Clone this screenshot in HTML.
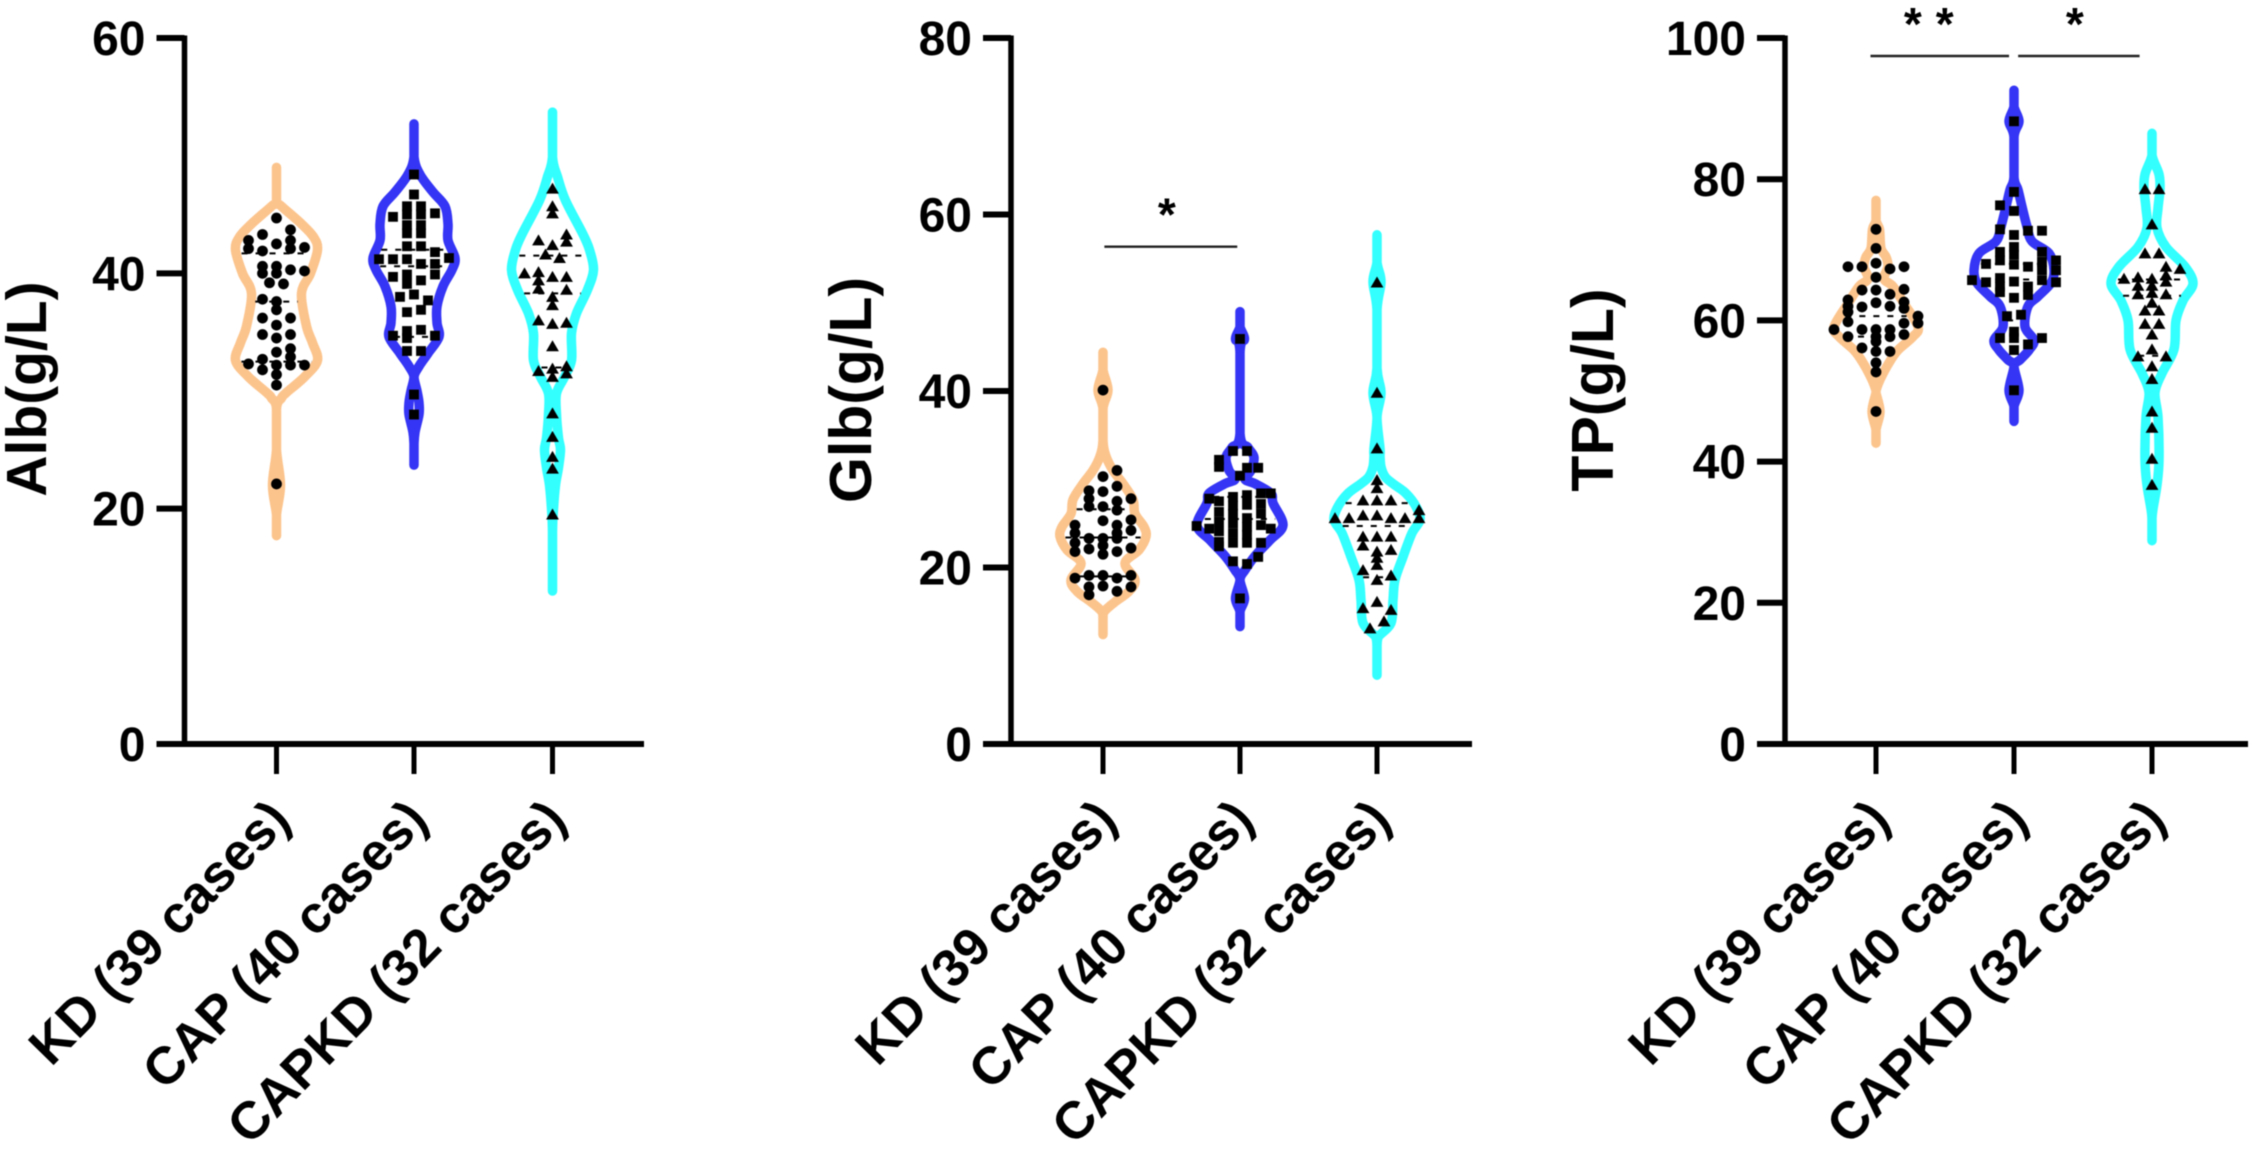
<!DOCTYPE html>
<html lang="en">
<head>
<meta charset="utf-8">
<title>Alb, Glb and TP violin plots</title>
<style>
html,body{margin:0;padding:0;background:#fff;}
body{width:2250px;height:1151px;overflow:hidden;}
svg{display:block;filter:blur(0.6px);}
text{font-family:"Liberation Sans",Arial,sans-serif;font-weight:bold;fill:#000;}
</style>
</head>
<body>
<svg id="chart" xmlns="http://www.w3.org/2000/svg" width="2250" height="1151" viewBox="0 0 2250 1151"></svg>
<script>
// ---------- shared ----------
const groupLabels = ["KD (39 cases)", "CAP (40 cases)", "CAPKD (32 cases)"];
const groupColors = ["#fcc48d", "#3535f5", "#33ffff"];
const groupSymbols = ["circle", "square", "triangle"];

// ---------- Alb ----------
const albTicks = [0, 20, 40, 60];
const albKdValues = [44.7,43.7,43.3,42.8,42.1,42.5,42.8,42.1,42.2,41.9,40.6,40.0,40.6,40.0,40.3,40.2,39.2,39.1,37.8,37.6,36.9,36.2,36.2,35.6,34.8,34.8,34.5,33.6,33.3,32.9,32.7,32.3,32.2,32.2,31.8,31.4,30.5,22.1,32.2];
const albKdSwarm = [0,1,-1,-2,-2,0,1,1,2,-1,-1,-1,0,0,1,2,-0.5,0.5,-1,0,0,-1,1,0,-1,1,0,1,0,1,-1,-2,0,2,-1,0,0,0,1];
const albCapValues = [48.4,46.7,45.7,45.0,45.7,45.0,44.1,43.4,44.1,43.4,45.1,44.8,42.3,42.3,41.8,40.8,39.9,41.3,41.2,41.2,41.2,40.8,39.7,39.9,39.1,39.4,38.0,38.2,37.7,36.9,36.7,35.2,35.1,34.5,34.7,34.7,33.4,33.4,29.7,28.0];
const albCapSwarm = [0,0,-0.5,-0.5,0.5,0.5,-0.5,-0.5,0.5,0.5,1.5,-1.5,-0.5,0.5,1.5,1.5,1.5,2.5,-2.5,-1.5,-0.5,0.5,-1.5,-0.5,-0.5,0.5,-1,0,1,0.5,-0.5,0.5,-0.5,-0.5,-1.5,1.5,-0.5,0.5,0,0];
const albCapkdValues = [47.2,45.7,45.1,42.8,43.3,42.7,42.4,41.6,41.3,40.0,40.1,39.4,38.7,39.7,39.7,38.6,38.0,37.3,36.0,35.7,35.8,33.8,31.7,32.1,31.5,31.9,31.2,28.1,26.1,24.4,23.4,19.5];
const albCapkdSwarm = [0,0,0,-1,1,1,0,-0.5,0.5,-2,-1,-1,-1,0,1,1,0,0,-1,0,1,0,-1,1,1,0,0,0,0,0,0,0];
const albKdProfileY = [49.0,46.2,45.7,44.2,43.1,42.0,40.0,38.3,35.5,34.1,32.6,31.2,29.8,29.4,28.5,25,22,19.5,17.7];
const albKdDensity = [0,0,10,50,74,82,68,50,60,72,82,56,18,10,0,0,8,0,0];
const albCapProfileY = [52.7,49.9,48.4,46.9,45.7,44.2,42.8,41.3,40.3,38.9,37.2,35.8,34.6,33.2,32.1,31.2,30,29,28,26.5,25.5,23.7];
const albCapDensity = [0,0,12,38,62,68,68,82,76,58,46,46,50,28,10,0,6,10,10,2,0,0];
const albCapkdProfileY = [53.7,49.9,48.2,46.2,43.4,42,40.3,38.6,36.6,34.9,32.6,31.2,29.8,28,26,25,23.5,22,20,18,13];
const albCapkdDensity = [0,0,10,26,60,74,82,70,48,38,38,24,8,8,12,16,12,6,2,0,0];
const albKdQuartiles = [41.7,37.6,32.5];
const albCapQuartiles = [42.0,40.6,34.6];
const albCapkdQuartiles = [41.5,38.3,32.0];

// ---------- Glb ----------
const glbTicks = [0, 20, 40, 60, 80];
const glbKdValues = [40.1,31.0,30.3,29.2,28.7,28.6,27.8,27.8,26.9,26.9,27.5,26.5,25.3,25.4,24.2,24.8,23.9,24.8,23.9,22.8,21.8,23.3,22.1,23.3,22.5,21.5,21.8,22.2,18.8,19.1,17.8,16.9,19.1,17.9,18.8,17.3,19.1,17.8,23.3];
const glbKdSwarm = [0,1,0,1,-1,0,2,-1,-1,0,1,1,0,2,2,1,1,-2,-2,-2,-2,-1,-1,0,0,0,1,2,-2,-1,-1,-1,0,0,1,1,2,2,1];
const glbCapValues = [45.9,33.2,33.2,32.2,31.4,31.3,31.3,30.4,28.4,27.8,27.5,26.3,25.2,24.1,22.9,22.4,26.1,25.0,23.9,22.8,28.2,27.1,25.6,24.6,22.8,28.4,27.2,26.1,24.8,22.8,24.7,24.4,24.4,21.2,20.7,20.4,16.5,28.0,27.0,23.7];
const glbCapSwarm = [0,-0.5,0.5,-1.5,-1.5,0.5,1.3,0,2.2,-2.2,-1.5,-1.5,-1.5,-1.5,-1.5,-1.5,-0.5,-0.5,-0.5,-0.5,0.5,0.5,0.5,0.5,0.5,1.5,1.5,1.5,1.5,1.5,-3.1,-2.2,2.2,1.3,-0.5,0.5,0,-0.5,-0.5,0.5];
const glbCapkdValues = [52.3,39.8,33.5,29.9,29.0,27.6,27.6,27.6,25.9,25.9,25.6,25.6,25.6,25.6,25.6,23.5,23.5,23.5,22.5,22.0,21.8,21.1,20.3,19.7,19.1,18.6,16.1,15.4,15.2,13.9,13.1,26.5];
const glbCapkdSwarm = [0,0,0,0,0,-1,0,1,-1,0,-3,-2,1,2,3,-1,0,1,-1,1,0,0,0,-1,1,0,0,-1,1,0.5,-0.5,3];
const glbKdProfileY = [44.4,42.4,40.1,38,34.4,32.6,31,29.5,27.7,26.1,24.6,23.5,22,20.5,18.6,17.3,16.1,15.1,14.4,12.4];
const glbKdDensity = [0,0,10,0,0,6,20,40,60,64,82,86,72,44,64,52,24,4,0,0];
const glbCapProfileY = [49.0,47.3,45.9,44.4,35.2,33.6,32.5,31,30,29.5,28.4,27.3,24.8,23.1,21.3,19.7,18.6,16.5,15,13.3];
const glbCapDensity = [0,0,9,0,0,16,28,22,10,30,62,66,86,60,30,10,0,9,0,0];
const glbCapkdProfileY = [57.7,54.6,52.4,49.2,42.6,39.8,37,33.5,32.6,31.4,30.3,29.5,28.4,26.9,25.4,23.9,21.2,18.6,16.3,13.7,12.1,11,7.8];
const glbCapkdDensity = [0,0,8,0,0,8,0,6,6,8,16,32,58,78,86,70,52,36,32,28,2,0,0];
const glbKdQuartiles = [26.6,23.4,19.0];
const glbCapQuartiles = [28.0,25.5,22.9];
const glbCapkdQuartiles = [27.3,24.7,18.9];

// ---------- TP ----------
const tpTicks = [0, 20, 40, 60, 80, 100];
const tpKdValues = [72.9,70.2,67.6,67.6,68.1,67.3,67.6,66.1,64.3,64.3,63.7,64.4,62.9,62.0,61.2,59.8,57.7,61.9,62.5,62.0,62.6,61.7,59.6,58.0,60.6,59.6,58.7,58.7,56.1,58.7,57.7,57.0,55.6,58.7,57.7,55.6,54.0,52.7,47.1];
const tpKdSwarm = [0,0,-2,-1,0,1,2,0,-1,0,1,2,-2,-2,-2,-2,-2,-1,0,1,2,2,2,2,3,3,-3,-1,-1,0,0,0,0,1,1,1,0,0,0];
const tpCapValues = [88.2,78.2,76.3,75.5,72.9,72.7,72.7,72.1,70.4,69.3,67.9,69.7,68.5,69.7,68.3,67.1,65.7,68.5,67.1,65.4,68.0,65.4,67.6,65.7,66.0,64.8,64.0,65.5,64.8,63.6,63.2,60.6,60.8,58.4,57.5,55.8,57.5,57.5,56.6,50.1];
const tpCapSwarm = [0,0,-1,0,-1,1,2,0,0,0,0,-1,-1,2,2,2,2,3,3,3,-2,-2,1,-3,-1,-1,-1,0,1,1,0,-0.5,0.5,0,0,0,-1,2,1,0];
const tpCapkdValues = [78.6,78.6,73.6,69.5,69.5,67.3,67.6,66.4,65.9,66.1,64.9,63.7,65.9,64.9,63.9,65.5,63.7,62.5,61.4,61.4,59.5,59.5,58.0,55.9,54.9,54.9,53.5,51.7,47.1,44.8,40.4,36.7];
const tpCapkdSwarm = [-0.5,0.5,0,-0.5,0.5,2,1,1,-2,-1,-1,-1,0,0,0,1,1,0,-0.5,0.5,-0.5,0.5,0,0,-1,1,0,0,0,0,0,0];
const tpKdProfileY = [77,74.2,72.9,70.2,69,67.6,65.9,64.8,62.4,59.1,57.7,55.8,54,51.6,50.1,49.7,47.1,44.5,42.6];
const tpKdDensity = [0,0,7,10,20,24,16,34,56,84,74,44,26,8,0,0,8,0,0];
const tpCapProfileY = [92.6,90.3,88.2,86,80.3,78.5,76.1,73.3,71.2,69.5,67.1,65.3,63.4,62,59.1,57.2,55.8,54.4,53.5,50.1,47.8,45.7];
const tpCapDensity = [0,0,10,0,0,8,16,26,36,70,80,74,48,28,22,40,30,12,0,10,0,0];
const tpCapkdProfileY = [86.5,83.4,80.7,78.6,75.9,73.1,70.4,67.6,65.2,62.8,60,55.9,52.5,49.8,46.3,40.2,36.7,33.3,31.9,28.8];
const tpCapkdDensity = [0,0,14,16,12,10,28,66,82,62,48,44,20,6,12,14,10,2,0,0];
const tpKdQuartiles = [64.2,60.6,57.7];
const tpCapQuartiles = [68.0,65.8,60.0];
const tpCapkdQuartiles = [65.8,63.5,55.0];

// ---------- significance ----------
const glbBrackets = [{from:0.01, to:0.98, level:56.35, stars:"*"}];
const tpBrackets = [{from:-0.04, to:0.964, level:97.45, stars:"**", spread:14}, {from:1.03, to:1.91, level:97.45, stars:"*", spread:0}];

// ---------- layout (not data) ----------
const panels = [
  {key:"alb", title:"Alb(g/L)", titleSize:57, ticks:albTicks, axisX:184.5, centers:[276.5,414,552.5], endX:644, titleX:46, titleY:389,
   series:[[albKdValues,albKdSwarm,albKdProfileY,albKdDensity,albKdQuartiles],[albCapValues,albCapSwarm,albCapProfileY,albCapDensity,albCapQuartiles],[albCapkdValues,albCapkdSwarm,albCapkdProfileY,albCapkdDensity,albCapkdQuartiles]], brackets:[]},
  {key:"glb", title:"Glb(g/L)", titleSize:59, ticks:glbTicks, axisX:1011, centers:[1103,1240,1377], endX:1472, titleX:871, titleY:390,
   series:[[glbKdValues,glbKdSwarm,glbKdProfileY,glbKdDensity,glbKdQuartiles],[glbCapValues,glbCapSwarm,glbCapProfileY,glbCapDensity,glbCapQuartiles],[glbCapkdValues,glbCapkdSwarm,glbCapkdProfileY,glbCapkdDensity,glbCapkdQuartiles]], brackets:glbBrackets},
  {key:"tp", title:"TP(g/L)", titleSize:59, ticks:tpTicks, axisX:1785, centers:[1876,2014,2152], endX:2248, titleX:1613, titleY:390,
   series:[[tpKdValues,tpKdSwarm,tpKdProfileY,tpKdDensity,tpKdQuartiles],[tpCapValues,tpCapSwarm,tpCapProfileY,tpCapDensity,tpCapQuartiles],[tpCapkdValues,tpCapkdSwarm,tpCapkdProfileY,tpCapkdDensity,tpCapkdQuartiles]], brackets:tpBrackets}
];
const plotTop = 38, plotBottom = 744, slotWidth = 14, densityScale = 0.5;
const NS = "http://www.w3.org/2000/svg";
const svg = document.getElementById("chart");

function make(tag, parent, attrs, text) {
  const el = document.createElementNS(NS, tag);
  for (const k in attrs) el.setAttribute(k, attrs[k]);
  if (text !== undefined) el.textContent = text;
  parent.appendChild(el);
  return el;
}
function yScale(panel) {
  const max = panel.ticks[panel.ticks.length - 1];
  return v => plotBottom - (v / max) * (plotBottom - plotTop);
}
function smoothSegments(pts) {
  const segs = [];
  for (let i = 0; i < pts.length - 1; i++) {
    const p0 = pts[Math.max(i - 1, 0)], p1 = pts[i], p2 = pts[i + 1], p3 = pts[Math.min(i + 2, pts.length - 1)];
    const c1h = Math.max(0, p1[0] + (p2[0] - p0[0]) / 6), c1y = p1[1] + (p2[1] - p0[1]) / 6;
    const c2h = Math.max(0, p2[0] - (p3[0] - p1[0]) / 6), c2y = p2[1] - (p3[1] - p1[1]) / 6;
    segs.push([c1h, c1y, c2h, c2y, p2[0], p2[1]]);
  }
  return segs;
}
function violinPath(cx, ys, dens, y) {
  const pts = ys.map((v, i) => [dens[i] * densityScale, y(v)]);
  const rightSegs = smoothSegments(pts);
  const leftSegs = smoothSegments(pts.slice().reverse());
  let d = "M" + (cx + pts[0][0]).toFixed(1) + " " + pts[0][1].toFixed(1);
  rightSegs.forEach(s => { d += "C" + (cx + s[0]).toFixed(1) + " " + s[1].toFixed(1) + " " + (cx + s[2]).toFixed(1) + " " + s[3].toFixed(1) + " " + (cx + s[4]).toFixed(1) + " " + s[5].toFixed(1); });
  leftSegs.forEach(s => { d += "C" + (cx - s[0]).toFixed(1) + " " + s[1].toFixed(1) + " " + (cx - s[2]).toFixed(1) + " " + s[3].toFixed(1) + " " + (cx - s[4]).toFixed(1) + " " + s[5].toFixed(1); });
  return d + "Z";
}
function densityAt(ys, dens, v) {
  for (let i = 0; i < ys.length - 1; i++) {
    if (v <= ys[i] && v >= ys[i + 1]) {
      const t = (ys[i] - v) / (ys[i] - ys[i + 1]);
      return dens[i] + t * (dens[i + 1] - dens[i]);
    }
  }
  return 0;
}

panels.forEach(panel => {
  const y = yScale(panel);
  const g = make("g", svg, {});
  
  

  // violins, quartile lines, points
  panel.series.forEach((s, gi) => {
    const cx = panel.centers[gi];
    const values = s[0], swarm = s[1], profY = s[2], dens = s[3], quart = s[4];
    const vg = make("g", g, {});
    
    

    const outline = make("path", vg, {d:violinPath(cx, profY, dens, y), fill:"#fff", stroke:groupColors[gi], "stroke-width":9.5, "stroke-linejoin":"round"});
    
    

    quart.forEach(q => {
      const half = densityAt(profY, dens, q) * densityScale - 5;
      const ln = make("line", vg, {x1:cx - half, x2:cx + half, y1:y(q), y2:y(q), stroke:"#000", "stroke-width":2, "stroke-dasharray":"6 8"});
      
      
    });

    values.forEach((v, i) => {
      const px = cx + swarm[i] * slotWidth, py = y(v);
      let mark;
      if (groupSymbols[gi] === "circle") {
        mark = make("circle", vg, {cx:px, cy:py, r:5.4, fill:"#000"});
      } else if (groupSymbols[gi] === "square") {
        mark = make("rect", vg, {x:px - 4.9, y:py - 4.9, width:9.8, height:9.8, fill:"#000"});
      } else {
        mark = make("polygon", vg, {points:(px - 6.4) + "," + (py + 5) + " " + (px + 6.4) + "," + (py + 5) + " " + px + "," + (py - 6), fill:"#000"});
      }
      
      
    });
  });

  // axes
  const yAxis = make("line", g, {x1:panel.axisX, x2:panel.axisX, y1:plotTop - 2.5, y2:plotBottom, stroke:"#000", "stroke-width":5.5});
  
  
  const xAxis = make("line", g, {x1:panel.axisX - 28, x2:panel.endX, y1:plotBottom, y2:plotBottom, stroke:"#000", "stroke-width":6});
  
  

  panel.ticks.forEach(t => {
    const tk = make("line", g, {x1:panel.axisX - 28, x2:panel.axisX, y1:y(t), y2:y(t), stroke:"#000", "stroke-width":6});
    
    
    const lb = make("text", g, {x:panel.axisX - 39, y:y(t) + 17, "text-anchor":"end", "font-size":48}, String(t));
    
    
  });

  panel.centers.forEach((cx, i) => {
    const tk = make("line", g, {x1:cx, x2:cx, y1:plotBottom, y2:774, stroke:"#000", "stroke-width":5});
    
    
    const ax = cx + 16, ay = 822;
    const lb = make("text", g, {x:ax, y:ay, "text-anchor":"end", "font-size":52.5, transform:"rotate(-45.5 " + ax + " " + ay + ")"}, groupLabels[i]);
    
    
  });

  const ttl = make("text", g, {x:panel.titleX, y:panel.titleY, "text-anchor":"middle", "font-size":panel.titleSize, transform:"rotate(-90 " + panel.titleX + " " + panel.titleY + ")"}, panel.title);
  
  

  // significance brackets
  const gap = panel.centers[1] - panel.centers[0];
  panel.brackets.forEach(b => {
    const x1 = panel.centers[0] + b.from * gap, x2 = panel.centers[0] + b.to * gap;
    const ln = make("line", g, {x1:x1, x2:x2, y1:y(b.level), y2:y(b.level), stroke:"#222", "stroke-width":2.4});
    
    
    const st = make("text", g, {x:(x1 + x2) / 2 - 4, y:y(b.level) - 16, "text-anchor":"middle", "font-size":46, "font-weight":"normal", "letter-spacing":(b.spread || 0)}, b.stars);
    
    
  });
});
</script>
</body>
</html>
